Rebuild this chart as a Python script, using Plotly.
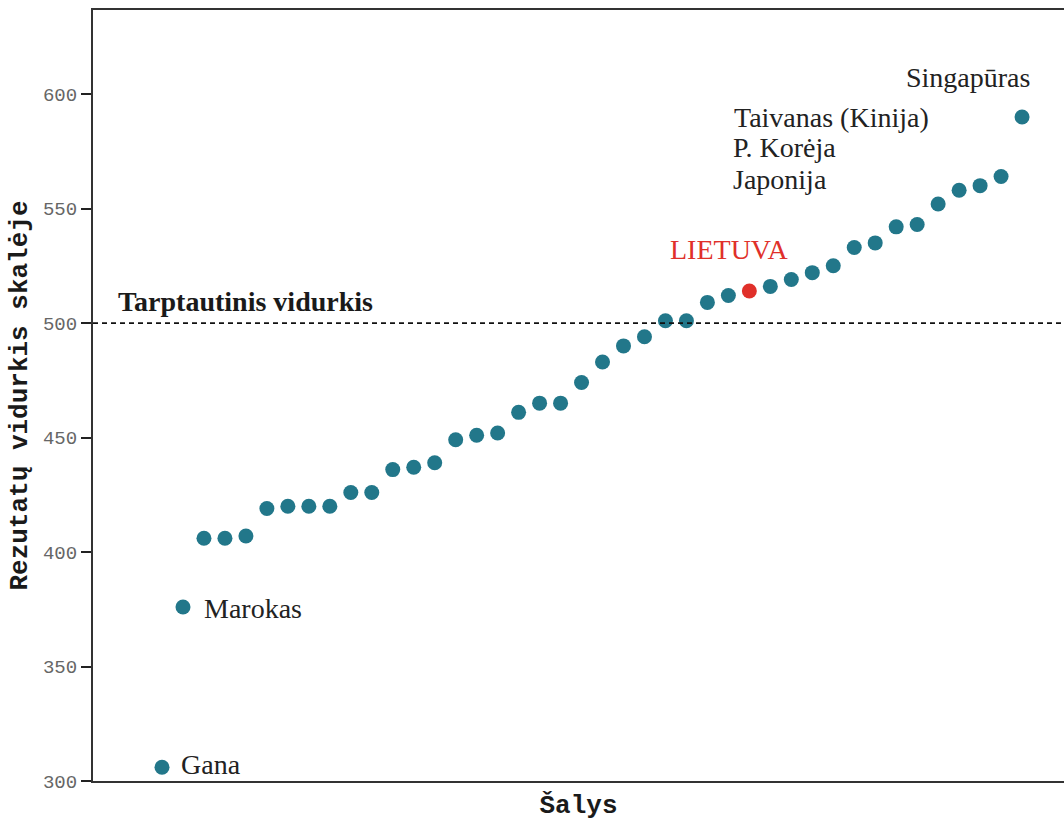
import plotly.graph_objects as go

countries = ["Gana", "Marokas", "Indonezija", "Libanas", "Makedonija", "Kataras", "Omanas",
             "Gruzija", "Palestina", "Sirija", "Malaizija", "Saudo Arabija", "Armėnija", "Tunisas",
             "Jordanija", "Tailandas", "Bahreinas", "Čilė", "JAE", "Rumunija", "Iranas", "Turkija",
             "Kazachstanas", "Norvegija", "Ukraina", "Italija", "Švedija", "Naujoji Zelandija",
             "LIETUVA", "Izraelis", "Australija", "Vengrija", "JAV", "Anglija", "Honkongas",
             "Rusija", "Slovėnija", "Suomija", "Japonija", "P. Korėja", "Taivanas (Kinija)", "Singapūras"]
scores = [306, 376, 406, 406, 407, 419, 420, 420, 420, 426, 426, 436, 437, 439, 449, 451, 452,
          461, 465, 465, 474, 483, 490, 494, 501, 501, 509, 512, 514, 516, 519, 522, 525, 533,
          535, 542, 543, 552, 558, 560, 564, 590]
intl_avg = 500
y_ticks = [300, 350, 400, 450, 500, 550, 600]

TEAL = "#22778a"
RED = "#e0302a"
idx = list(range(len(scores)))
colors = [RED if c == "LIETUVA" else TEAL for c in countries]

fig = go.Figure()
fig.add_trace(go.Scatter(x=idx, y=scores, mode="markers",
                         marker=dict(size=15, color=colors, line=dict(width=0)),
                         text=countries, hoverinfo="text+y", showlegend=False))

fig.add_shape(type="line", xref="paper", x0=0, x1=1, yref="y", y0=intl_avg, y1=intl_avg,
              line=dict(color="#111111", width=1.8, dash="5px,4px"))

serif = "Liberation Serif, Times New Roman, serif"
ann = []
ann.append(dict(xref="paper", yref="y", x=0.0235, y=intl_avg, text="<b>Tarptautinis vidurkis</b>",
                xanchor="left", yanchor="bottom", yshift=4, showarrow=False,
                font=dict(family=serif, size=28, color="#1a1a1a")))
def lab(i, text, dx, dy=0, anchor="left", color="#222222"):
    ann.append(dict(x=idx[i], y=scores[i], text=text, xanchor=anchor, yanchor="middle",
                    xshift=dx, yshift=dy, showarrow=False,
                    font=dict(family=serif, size=28, color=color)))
lab(0, "Gana", 17, 3)
lab(1, "Marokas", 19, -2)
lab(28, "LIETUVA", -20, 41, anchor="center", color=RED)
n = len(scores)
lab(n - 1, "Singapūras", 10, 39, anchor="right")
lab(n - 2, "Taivanas (Kinija)", -269, 59)
lab(n - 3, "P. Korėja", -249, 38)
lab(n - 4, "Japonija", -228, 11)
fig.update_layout(annotations=ann)

mono = "Liberation Mono, Courier New, monospace"
fig.update_layout(
    width=1064, height=821,
    margin=dict(l=93, r=0, t=10, b=40),
    plot_bgcolor="white", paper_bgcolor="white",
    xaxis=dict(range=[-3.29, 43.0], showticklabels=False, ticks="", showgrid=False,
               zeroline=False, showline=True, linecolor="#333333", linewidth=2, mirror=True,
               title=dict(text="<b>Šalys</b>", font=dict(family=mono, size=26, color="#1a1a1a"),
                          standoff=14)),
    yaxis=dict(range=[300, 636.7], tickvals=y_ticks, ticks="outside", ticklen=10,
               tickwidth=2, tickcolor="#222222", showgrid=False, zeroline=False,
               showline=True, linecolor="#333333", linewidth=2,
               tickfont=dict(family=mono, size=19, color="#666666"),
               title=dict(text="<b>Rezutatų vidurkis skalėje</b>",
                          font=dict(family=mono, size=26, color="#1a1a1a"), standoff=8)),
)

fig.write_html("out.html", config={"displayModeBar": False},
               post_script="document.body.style.margin='0';document.body.style.overflow='hidden';")
